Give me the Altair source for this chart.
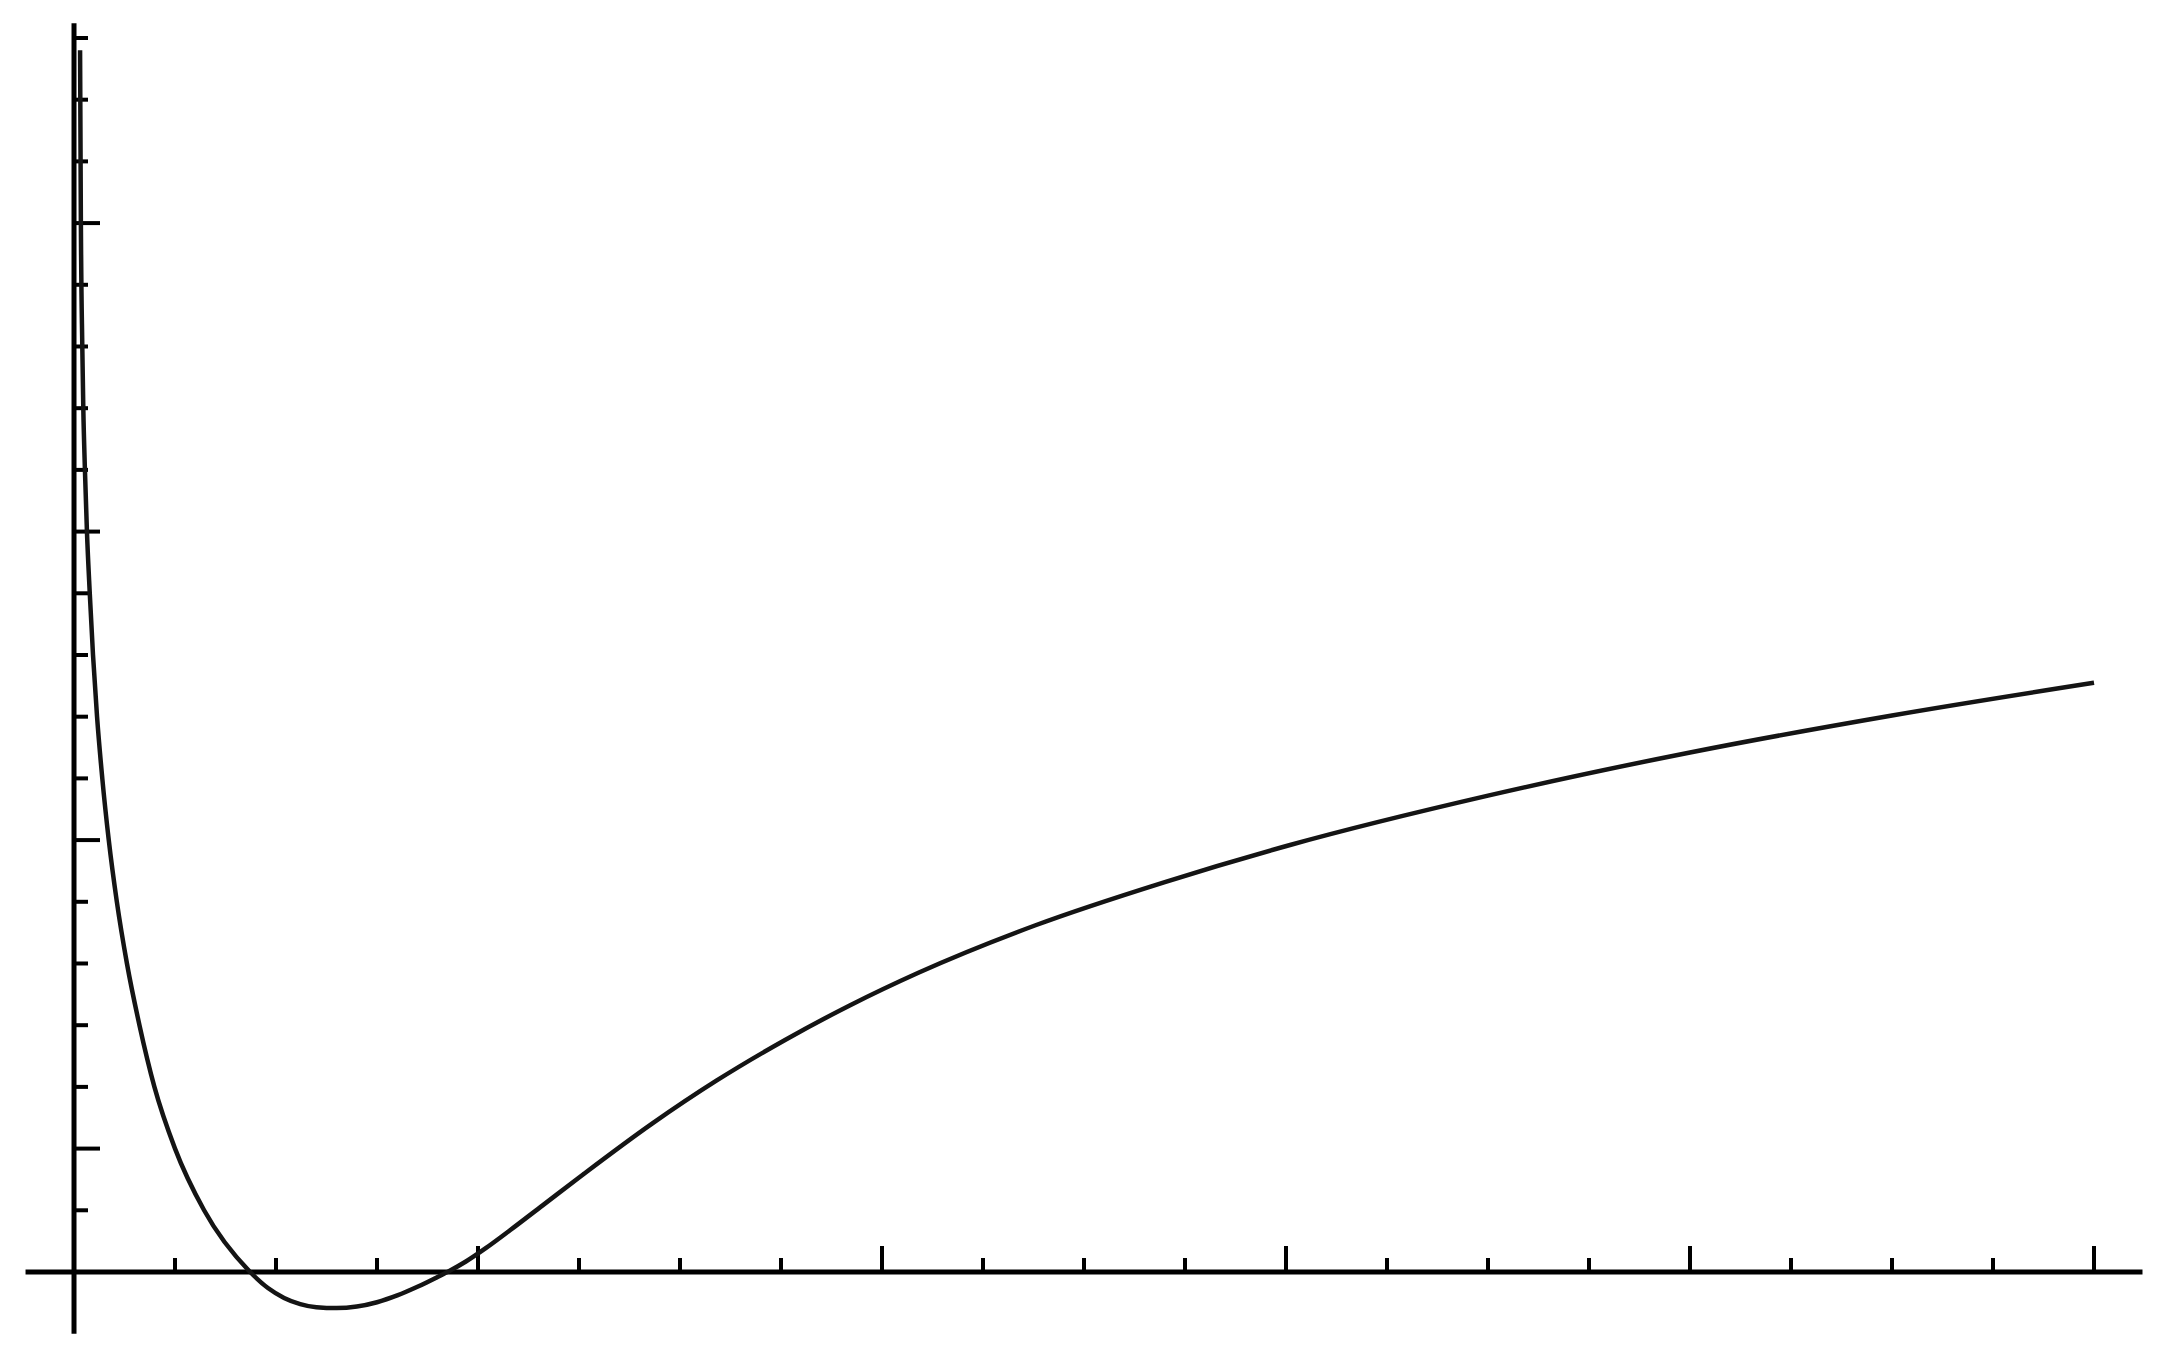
import altair as alt
import pandas as pd

# Curve (x in major-tick units, y in minor-tick units)
curve_x = [0.015, 0.017, 0.0205, 0.023, 0.027, 0.032, 0.039, 0.047, 0.057, 0.070,
           0.086, 0.106, 0.131, 0.162, 0.199, 0.250, 0.322, 0.436, 0.48, 0.52,
           0.56, 0.60, 0.65, 0.70, 0.75, 0.80, 0.85, 0.90, 0.93, 0.97,
           1.02, 1.08, 1.16, 1.26, 1.43, 1.59, 1.76, 1.92, 2.09, 2.38,
           2.70, 3.01, 3.50, 4.00, 4.50, 5.00]
curve_y = [19.8, 17.0, 15.0, 14.0, 13.0, 12.0, 11.0, 10.0, 9.0, 8.0,
           7.0, 6.0, 5.0, 4.0, 3.0, 2.0, 1.0, 0.0, -0.26, -0.42,
           -0.52, -0.57, -0.585, -0.56, -0.49, -0.38, -0.24, -0.08, 0.02, 0.17,
           0.39, 0.68, 1.08, 1.58, 2.40, 3.10, 3.76, 4.32, 4.85, 5.62,
           6.32, 6.92, 7.72, 8.42, 9.02, 9.55]

x_major_ticks = [1, 2, 3, 4, 5]
x_minor_ticks = [0.25, 0.5, 0.75, 1.25, 1.5, 1.75, 2.25, 2.5, 2.75,
                 3.25, 3.5, 3.75, 4.25, 4.5, 4.75]
y_major_ticks = [2, 7, 12, 17]
y_minor_ticks = [1, 3, 4, 5, 6, 8, 9, 10, 11, 13, 14, 15, 16, 18, 19, 20]
x_axis_extent = [-0.12, 5.12]
y_axis_extent = [-1.0, 20.24]

X_DOMAIN = [-0.1634, 5.1460]
Y_DOMAIN = [-1.394, 20.486]
W, H = 2145, 1350

xs = alt.Scale(domain=X_DOMAIN, zero=False, nice=False)
ys = alt.Scale(domain=Y_DOMAIN, zero=False, nice=False)

curve_df = pd.DataFrame({"u": curve_x, "v": curve_y})
xaxis_df = pd.DataFrame({"u1": [x_axis_extent[0]], "u2": [x_axis_extent[1]], "v": [0]})
yaxis_df = pd.DataFrame({"v1": [y_axis_extent[0]], "v2": [y_axis_extent[1]], "u": [0]})
xmaj_df = pd.DataFrame({"u": x_major_ticks, "base": [0] * len(x_major_ticks)})
xmin_df = pd.DataFrame({"u": x_minor_ticks, "base": [0] * len(x_minor_ticks)})
ymaj_df = pd.DataFrame({"v": y_major_ticks, "base": [0] * len(y_major_ticks)})
ymin_df = pd.DataFrame({"v": y_minor_ticks, "base": [0] * len(y_minor_ticks)})

INK = "#000000"

x_axis_line = alt.Chart(xaxis_df).mark_rule(color=INK, strokeWidth=5).encode(
    x=alt.X("u1:Q", scale=xs, axis=None), x2="u2:Q",
    y=alt.Y("v:Q", scale=ys, axis=None))
y_axis_line = alt.Chart(yaxis_df).mark_rule(color=INK, strokeWidth=5).encode(
    y=alt.Y("v1:Q", scale=ys, axis=None), y2="v2:Q",
    x=alt.X("u:Q", scale=xs, axis=None))

def xticks(df, length):
    return alt.Chart(df).mark_rule(color=INK, strokeWidth=4, y2Offset=-length).encode(
        x=alt.X("u:Q", scale=xs, axis=None),
        y=alt.Y("base:Q", scale=ys, axis=None), y2="base:Q")

def yticks(df, length):
    return alt.Chart(df).mark_rule(color=INK, strokeWidth=4, x2Offset=length).encode(
        y=alt.Y("v:Q", scale=ys, axis=None),
        x=alt.X("base:Q", scale=xs, axis=None), x2="base:Q")

curve = alt.Chart(curve_df).mark_line(color="#141414", strokeWidth=4.5,
                                      interpolate="monotone").encode(
    x=alt.X("u:Q", scale=xs, axis=None),
    y=alt.Y("v:Q", scale=ys, axis=None))

chart = alt.layer(
    x_axis_line, y_axis_line,
    xticks(xmaj_df, 26), xticks(xmin_df, 14),
    yticks(ymaj_df, 26), yticks(ymin_df, 14),
    curve,
).properties(width=W, height=H, padding=0, background="white").configure_view(stroke=None)

chart.save("out.html", embed_options={"renderer": "svg", "actions": False})
